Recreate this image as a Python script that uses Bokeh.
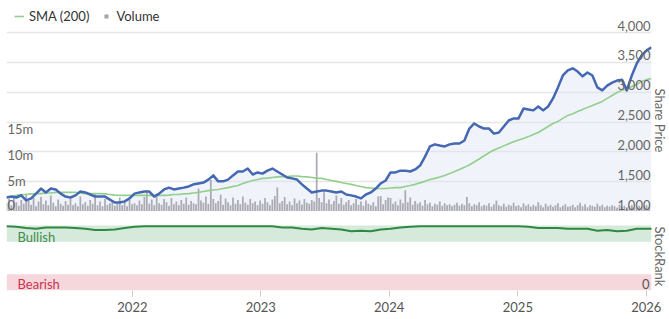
import math
import numpy as np
import pandas as pd
from bokeh.plotting import figure
from bokeh.layouts import column
from bokeh.models import (Range1d, FixedTicker, Grid, Label, LabelSet, ColumnDataSource,
                          Legend, LegendItem, DatetimeTickFormatter, Title)
from bokeh.core.properties import value
from bokeh.embed import file_html
from bokeh.resources import INLINE

# ---------------- data ----------------
start_date = "2021-01-08"
end_date = "2026-01-16"

# share price, every 14 days from start_date
price = [1235, 1250, 1235, 1270, 1185, 1220, 1300, 1385, 1320, 1385,
         1370, 1300, 1250, 1235, 1270, 1335, 1320, 1285, 1250, 1250,
         1250, 1200, 1150, 1150, 1170, 1220, 1300, 1320, 1335, 1335,
         1250, 1300, 1370, 1400, 1370, 1385, 1400, 1420, 1455, 1470,
         1485, 1535, 1605, 1505, 1505, 1535, 1605, 1670, 1670, 1720,
         1620, 1655, 1635, 1685, 1720, 1670, 1620, 1570, 1555, 1535,
         1455, 1385, 1320, 1335, 1350, 1350, 1335, 1320, 1335, 1285,
         1270, 1250, 1220, 1285, 1320, 1385, 1470, 1520, 1655, 1655,
         1685, 1685, 1670, 1705, 1770, 1920, 2090, 2125, 2105, 2090,
         2125, 2140, 2140, 2190, 2390, 2475, 2425, 2390, 2390, 2305,
         2325, 2425, 2525, 2560, 2560, 2725, 2710, 2695, 2760, 2695,
         2760, 2895, 3080, 3280, 3365, 3400, 3345, 3265, 3330, 3280,
         3080, 3030, 3110, 3160, 3195, 3210, 3030, 3280, 3480, 3615,
         3700, 3750]

# 200-day simple moving average, same dates as price
sma200 = [1235, 1250, 1270, 1285, 1285, 1295, 1300, 1300, 1310, 1310,
          1320, 1320, 1320, 1320, 1320, 1310, 1300, 1300, 1300, 1300,
          1295, 1285, 1275, 1270, 1270, 1270, 1270, 1270, 1270, 1270,
          1270, 1270, 1270, 1275, 1285, 1285, 1295, 1300, 1310, 1320,
          1335, 1350, 1360, 1370, 1385, 1400, 1420, 1435, 1470, 1495,
          1520, 1535, 1555, 1560, 1570, 1580, 1585, 1585, 1595, 1595,
          1585, 1580, 1570, 1560, 1555, 1535, 1520, 1505, 1485, 1470,
          1455, 1435, 1420, 1400, 1395, 1385, 1385, 1385, 1395, 1400,
          1400, 1420, 1435, 1455, 1480, 1505, 1535, 1555, 1580, 1605,
          1635, 1670, 1705, 1740, 1780, 1830, 1880, 1935, 1985, 2030,
          2065, 2100, 2135, 2170, 2200, 2225, 2255, 2290, 2325, 2375,
          2425, 2475, 2510, 2560, 2610, 2640, 2675, 2710, 2745, 2775,
          2810, 2845, 2895, 2945, 2995, 3030, 3060, 3095, 3130, 3180,
          3210, 3230]

# weekly volume, millions of shares
volume_m = [1.6, 2.4, 1.2, 3.0, 1.8, 1.1, 2.2, 1.5, 3.4, 2.0, 1.3, 2.6, 1.0, 1.9, 2.8, 1.4, 2.1, 1.2, 3.1, 1.7, 1.0, 2.3, 1.5, 1.1, 2.0, 1.3,
            2.5, 1.2, 1.6, 1.0, 2.9, 1.4, 1.8, 1.1, 2.2, 1.5, 3.5, 1.2, 1.9, 1.0, 2.4, 1.3, 1.6, 2.0, 1.1, 1.5, 2.7, 1.2, 1.8, 1.0, 2.2, 1.4,
            1.6, 1.2, 2.1, 1.4, 2.8, 3.7, 1.5, 2.3, 1.2, 2.9, 1.6, 1.3, 2.4, 1.8, 1.1, 2.6, 1.4, 1.9, 1.2, 2.2, 1.5, 2.7, 1.3, 2.0, 1.6, 1.4,
            4.4, 2.1, 1.7, 2.9, 1.5, 6.1, 2.4, 1.6, 2.0, 3.2, 1.3, 2.5, 1.8, 1.2, 2.7, 1.5, 2.2, 1.4, 2.9, 1.7, 1.3, 2.4, 1.6, 1.9, 1.2, 2.1,
            1.5, 2.6, 1.8, 1.2, 2.3, 3.0, 4.6, 1.6, 2.0, 2.8, 1.4, 1.9, 1.2, 2.5, 1.6, 2.1, 1.3, 2.4, 1.7, 1.5, 2.2, 1.9, 11.3, 2.6, 1.8, 3.7,
            1.6, 2.3, 1.4, 2.0, 3.1, 1.5, 2.6, 1.3, 1.8, 2.2, 1.2, 1.6, 2.4, 1.3, 1.9, 1.1, 2.1, 1.5, 1.2, 1.8, 1.0, 2.9, 3.0, 1.4, 2.2, 2.7,
            2.6, 1.5, 1.9, 1.2, 2.3, 1.6, 4.1, 1.8, 2.7, 1.3, 2.0, 1.5, 1.8, 1.1, 2.2, 1.4, 1.7, 1.0, 1.5, 1.3, 1.9, 1.1, 1.6, 1.2, 1.4, 1.0,
            1.3, 1.7, 1.1, 1.5, 1.2, 2.8, 1.6, 1.0, 1.4, 1.2, 1.8, 1.0, 1.3, 1.1, 1.6, 0.9, 1.4, 2.1, 1.2, 1.0, 1.5, 0.9, 1.3, 1.1, 1.7, 1.0,
            1.2, 0.8, 1.6, 1.1, 1.4, 0.9, 1.3, 1.0, 1.8, 1.2, 0.8, 1.5, 1.0, 1.3, 0.9, 1.2, 1.6, 0.8, 1.1, 1.4, 0.9, 1.0, 1.3, 0.8, 1.2, 1.7,
            1.0, 1.4, 0.8, 1.2, 1.1, 0.9, 1.5, 1.0, 1.3, 0.8, 1.1, 0.9, 1.2, 1.0, 0.7, 1.3, 0.9, 1.1, 0.8, 1.0, 1.2, 0.7, 0.9, 1.1, 0.8, 1.0,
            1.2, 0.9]

# StockRank, every 28 days
stockrank = [99, 98, 96, 95, 97, 97, 97, 96, 95, 93,
             93, 94, 96, 98, 99, 99, 99, 99, 99, 99,
             99, 99, 99, 99, 99, 99, 99, 99, 97, 97,
             95, 94, 96, 95, 94, 91, 92, 91, 94, 95,
             97, 98, 99, 99, 99, 99, 99, 99, 99, 99,
             99, 99, 99, 98, 96, 96, 96, 95, 95, 95,
             92, 93, 91, 92, 95, 95, 95]

price_ticks = [1000, 1500, 2000, 2500, 3000, 3500, 4000]
price_tick_labels = ["1,000", "1,500", "2,000", "2,500", "3,000", "3,500", "4,000"]
volume_ticks_m = [0, 5, 10, 15]
volume_tick_labels = ["0", "5m", "10m", "15m"]
year_ticks = ["2022-01-01", "2023-01-01", "2024-01-01", "2025-01-01", "2026-01-01"]
bullish_band = [75, 100]
bearish_band = [0, 25]

# ---------------- styling / layout ----------------
FONT = "Lato"
volume_label_lift_px = [7, 5, 5, 5]   # vertical nudge of the volume tick labels


def ms(d):
    return pd.Timestamp(d).timestamp() * 1000.0


price_dates = pd.date_range(start_date, periods=len(price), freq="14D")
sma_dates = pd.date_range(start_date, periods=len(sma200), freq="14D")
vol_dates = pd.date_range(start_date, periods=len(volume_m), freq="7D")
rank_dates = pd.date_range(start_date, periods=len(stockrank), freq="28D")

x0, x1 = ms(start_date), ms(end_date)
x_range = Range1d(x0, x1)


def side_title(text, align, offset):
    return Title(text=text, align=align, offset=offset, standoff=0,
                 text_font=FONT, text_font_size="13px", text_font_style="normal",
                 text_color="#666")


# ---------------- main panel ----------------
TOP_H = 211
price_px = 179.0 / 3000.0  # px per price unit
p = figure(width=669, height=TOP_H, x_range=x_range,
           y_range=Range1d(1000, 1000 + TOP_H / price_px),
           x_axis_type="datetime", x_axis_location=None, y_axis_location=None,
           min_border_left=6, min_border_right=17, min_border_top=0, min_border_bottom=0,
           output_backend="svg", toolbar_location=None, outline_line_color=None)
p.extra_y_ranges = {"vol": Range1d(0, TOP_H / 5.2)}
p.xgrid.visible = False
p.ygrid.visible = False
p.add_layout(Grid(dimension=1, ticker=FixedTicker(ticks=price_ticks),
                  grid_line_color="#e6e6e6", grid_line_width=1.5))

p.varea(x=price_dates, y1=price_ticks[0], y2=price, fill_color="#dde4f1", fill_alpha=0.45)
p.vbar(x=vol_dates, top=volume_m, bottom=0, width=5 * 86400000,
       fill_color="#a3a3ab", line_color=None, fill_alpha=0.9, y_range_name="vol")
sma_r = p.line(sma_dates, sma200, line_color="#92cf8e", line_width=1.6)
p.line(price_dates, price, line_color="#4468b2", line_width=2.5, line_join="round")

vol_leg = p.scatter(x=[x0], y=[float("nan")], marker="square", size=6,
                    fill_color="#a3a3ab", line_color=None)
legend = Legend(items=[LegendItem(label="SMA (200)", renderers=[sma_r]),
                       LegendItem(label="Volume", renderers=[vol_leg])],
                location="top_left", orientation="horizontal", margin=0, padding=8,
                spacing=12, glyph_width=10, glyph_height=14, label_standoff=5,
                label_text_font=FONT, label_text_font_size="13px", label_text_color="#333",
                background_fill_alpha=0, border_line_alpha=0)
p.add_layout(legend)

psrc = ColumnDataSource(dict(x=[x1] * len(price_ticks), y=price_ticks, t=price_tick_labels))
p.add_layout(LabelSet(x="x", y="y", text="t", source=psrc, x_offset=-1, y_offset=7,
                      text_align="right", text_baseline="middle",
                      text_font=value(FONT), text_font_size="13px", text_color="#666"))
vsrc = ColumnDataSource(dict(x=[x0] * len(volume_ticks_m), y=volume_ticks_m,
                             t=volume_tick_labels, dy=volume_label_lift_px))
p.add_layout(LabelSet(x="x", y="y", text="t", source=vsrc, x_offset=1, y_offset="dy",
                      y_range_name="vol", text_align="left", text_baseline="middle",
                      text_font=value(FONT), text_font_size="13px", text_color="#666"))
p.add_layout(side_title("Share Price", "left", 88), "right")

# ---------------- StockRank panel ----------------
rank_px = 0.65
p2 = figure(width=669, height=108, x_range=x_range, y_range=Range1d(0, 68 / rank_px),
            x_axis_type="datetime", y_axis_location=None,
            min_border_left=6, min_border_right=17, min_border_top=11, min_border_bottom=29,
            output_backend="svg", toolbar_location=None, outline_line_color=None)
p2.xgrid.visible = False
p2.ygrid.visible = False
p2.quad(left=x0, right=x1, bottom=[bullish_band[0], bearish_band[0]],
        top=[bullish_band[1], bearish_band[1]], fill_color=["#d5eada", "#f6d7dc"], line_color=None)
p2.line(rank_dates, stockrank, line_color="#2e8a42", line_width=2)

ax = p2.xaxis[0]
ax.ticker = FixedTicker(ticks=[ms(d) for d in year_ticks])
ax.formatter = DatetimeTickFormatter(years="%Y", months="%Y", days="%Y", hours="%Y",
                                     minutes="%Y", seconds="%Y", milliseconds="%Y", microseconds="%Y")
ax.axis_line_color = None
ax.major_tick_line_color = "#cccccc"
ax.major_tick_in = 0
ax.major_tick_out = 6
ax.minor_tick_line_color = None
ax.major_label_standoff = 5
ax.major_label_text_font = FONT
ax.major_label_text_font_size = "13px"
ax.major_label_text_color = "#555"

p2.add_layout(Label(x=x0, y=bullish_band[0], x_offset=11, y_offset=5, text="Bullish",
                    text_align="left", text_baseline="middle", text_font=FONT,
                    text_font_size="13px", text_color="#3f8d4e"))
p2.add_layout(Label(x=x0, y=bearish_band[0], x_offset=11, y_offset=7, text="Bearish",
                    text_align="left", text_baseline="middle", text_font=FONT,
                    text_font_size="13px", text_color="#c8334f"))
p2.add_layout(Label(x=x1, y=bearish_band[0], x_offset=-2, y_offset=7, text="0",
                    text_align="right", text_baseline="middle", text_font=FONT,
                    text_font_size="13px", text_color="#555"))
p2.add_layout(side_title("StockRank", "center", 0), "right")

layout = column(p, p2, spacing=0)
open("out.html", "w").write(file_html(layout, INLINE))
